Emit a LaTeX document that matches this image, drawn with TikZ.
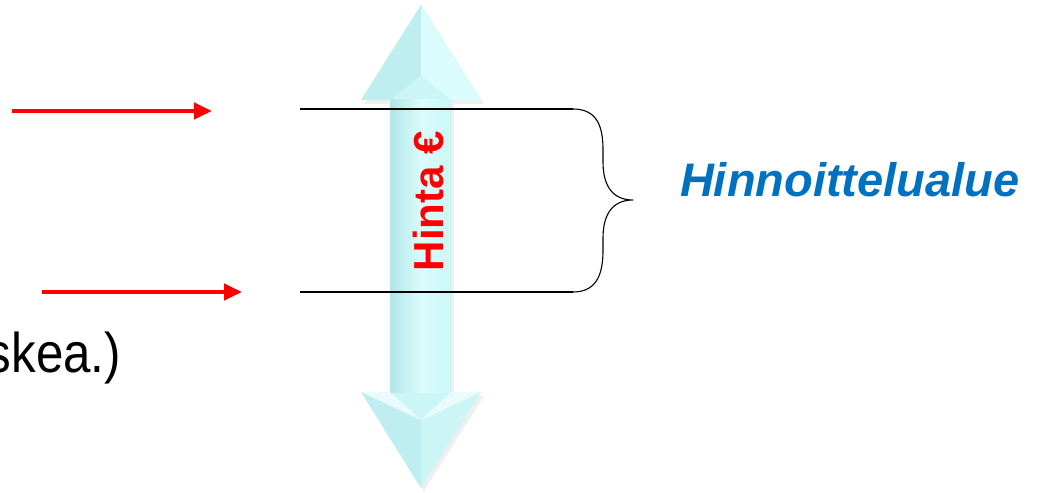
\documentclass[tikz,border=0pt]{standalone}
\usepackage{fontspec}
\setmainfont{Liberation Sans}
\usetikzlibrary{arrows.meta}
\definecolor{cyanA}{RGB}{204,246,246}
\definecolor{cyanB}{RGB}{178,230,232}
\definecolor{cyanC}{RGB}{218,252,252}
\definecolor{cyanE}{RGB}{190,238,240}
\definecolor{myblue}{RGB}{0,112,192}
\tikzset{
  redarrow/.style={draw=red, line width=4pt, -{Triangle[length=18pt,width=16pt]}},
  thinline/.style={draw=black, line width=1.1pt},
  txt/.style={inner sep=0pt, outer sep=0pt},
}
\begin{document}
\begin{tikzpicture}[x=1pt,y=-1pt]
\useasboundingbox (0,0) rectangle (1040,492);
\clip (0,0) rectangle (1040,492);
% shadow
\fill[black!25, opacity=0.25] (424,9) -- (484,104) -- (454,104) -- (454,396) -- (484,396) -- (424,491) -- (364,396) -- (393,396) -- (393,104) -- (364,104) -- cycle;
% double arrow
\fill[cyanA] (421,5) -- (481,100) -- (451,100) -- (451,392) -- (481,392) -- (421,488) -- (361,392) -- (390,392) -- (390,100) -- (361,100) -- cycle;
% shaft shading
\shade[left color=cyanB, right color=cyanC] (390,100) rectangle (421,392);
\shade[left color=cyanC, right color=cyanA] (421,100) rectangle (451,392);
% top head facets
\fill[cyanC] (421,5) -- (481,100) -- (451,100) -- (421,75) -- cycle;
\fill[cyanE] (421,5) -- (361,100) -- (390,100) -- (421,75) -- cycle;
% bottom head facets
\fill[cyanE] (361,392) -- (421,420) -- (421,488) -- cycle;
\fill[cyanA] (481,392) -- (421,420) -- (421,488) -- cycle;
\fill[white, opacity=0.6] (361,392) -- (390,392) -- (421,420) -- cycle;
\fill[white, opacity=0.6] (481,392) -- (451,392) -- (421,420) -- cycle;
% label in shaft
\node[txt, text=red, rotate=90] (hinta) at (428,201) {\fontsize{42}{44}\selectfont\bfseries Hinta €};
% range lines and brace
\coordinate (t0) at (300,109);
\coordinate (t1) at (573,109);
\coordinate (b0) at (300,292);
\coordinate (b1) at (573,292);
\coordinate (tip) at (633,200);
\draw[thinline] (t0) -- (t1);
\draw[thinline] (b0) -- (b1);
\draw[thinline] (t1) .. controls (598,109) and (603,128) .. (603,150) -- (603,162) .. controls (603,185) and (612,200) .. (tip)
  .. controls (612,200) and (603,215) .. (603,238) -- (603,250) .. controls (603,272) and (598,292) .. (b1);
% brace label
\node[txt, text=myblue, anchor=west] (range) at (680,180) {\fontsize{47}{50}\selectfont\bfseries\itshape Hinnoittelualue};
% red arrows
\coordinate (r1a) at (12,111);
\coordinate (r1b) at (212,111);
\coordinate (r2a) at (42,292);
\coordinate (r2b) at (242,292);
\draw[redarrow] (r1a) -- (r1b);
\draw[redarrow] (r2a) -- (r2b);
% clipped text
\node[txt, anchor=base east, xscale=0.88, transform shape] (note) at (121,372) {\fontsize{56}{60}\selectfont skea.)};
\end{tikzpicture}
\end{document}
